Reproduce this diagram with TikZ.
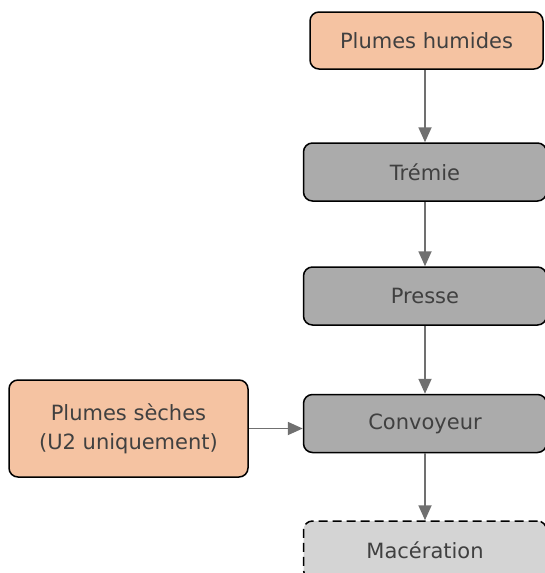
\documentclass[tikz,border=0pt]{standalone}
\usepackage{fontspec}
\setmainfont{DejaVu Sans}
\usetikzlibrary{arrows.meta}
\definecolor{entree}{HTML}{F5C3A2}
\definecolor{etape}{HTML}{ABABAB}
\definecolor{aval}{HTML}{D4D4D4}
\definecolor{texte}{HTML}{404040}
\definecolor{fleche}{HTML}{707070}
\tikzset{
	boite/.style={draw=black, line width=1.5pt, rounded corners=9pt, text=texte, font=\fontsize{21}{29}\selectfont, align=center, inner sep=0pt},
	source/.style={boite, fill=entree},
	poste/.style={boite, fill=etape, minimum width=243, minimum height=58},
	suite/.style={boite, fill=aval, dashed, dash pattern=on 9pt off 5pt, minimum width=243, minimum height=58},
	flux/.style={draw=fleche, line width=1.8pt, -{Triangle[length=15pt,width=13pt]}}
}

\begin{document}
\begin{tikzpicture}[x=1pt, y=-1pt]
			%%%%% START %%%%%
			
			\useasboundingbox (0, 0) rectangle (545, 573);
			\clip (0, 0) rectangle (545, 573);
			
			\node[source, minimum width=233, minimum height=57] (humides) at (426.5, 40.5) {Plumes humides};
			\node[poste] (tremie) at (425, 172) {Trémie};
			\node[poste] (presse) at (425, 296) {Presse};
			\node[poste] (convoyeur) at (425, 423.5) {Convoyeur};
			\node[suite] (maceration) at (425, 550) {Macération};
			
			\node[source, minimum width=239, minimum height=97] (seches) at (128.5, 428.5) {Plumes sèches\\(U2 uniquement)};
			
			\draw[flux] (humides.south -| tremie.north) -- (tremie.north);
			\draw[flux] (tremie) -- (presse);
			\draw[flux] (presse) -- (convoyeur);
			\draw[flux] (convoyeur) -- (maceration);
			\draw[flux] (seches.east) -- (seches.east -| convoyeur.west);
			
			%%%%% END %%%%%
\end{tikzpicture}
\end{document}
